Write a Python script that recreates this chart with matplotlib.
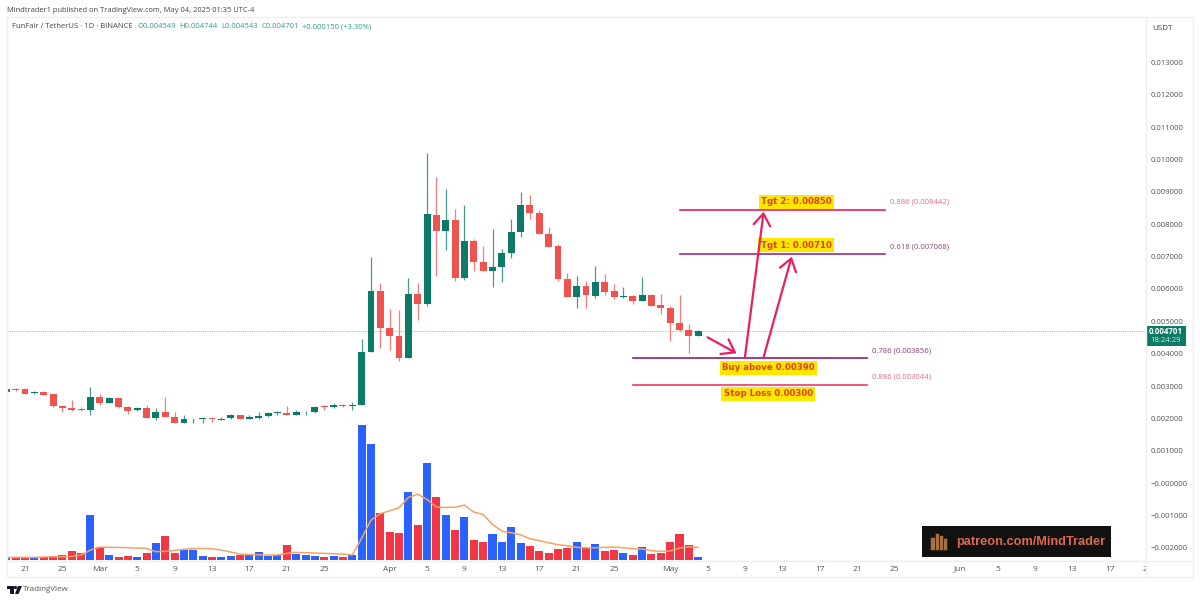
import numpy as np
import pandas as pd
import matplotlib
matplotlib.use('Agg')
import matplotlib.pyplot as plt
import matplotlib.dates as mdates
from matplotlib.patches import Rectangle, Polygon, Circle
from matplotlib.transforms import Bbox

plt.rcParams['font.family'] = ['Open Sans', 'DejaVu Sans']

# daily candles, in millionths of a USDT
open_u = [2805, 2908, 2908, 2795, 2815, 2743, 2383, 2331, 2290, 2249, 2661, 2486, 2620, 2362, 2249, 2311, 2022, 2197, 2053,
          1857, 1971, 1981, 2002, 1960, 2002, 2094, 1981, 2012, 2063, 2156, 2177, 2105, 2187, 2187, 2383, 2341, 2414, 2372,
          2424, 4043, 5938, 4805, 4558, 3868, 5856, 5526, 8297, 7782, 8122, 6340, 7473, 6824, 6556, 6680, 7102, 7751, 8585,
          8359, 7689, 7318, 6299, 5763, 6093, 5784, 6216, 5938, 5763, 5784, 5619, 5815, 5495, 5423, 4939, 4723, 4549]
high_u = [2908, 2929, 2929, 2846, 2856, 2764, 2414, 2568, 2341, 2980, 2764, 2650, 2640, 2393, 2352, 2414, 2331, 2671, 2187,
          2115, 2012, 2022, 2022, 2043, 2125, 2105, 2105, 2187, 2207, 2238, 2383, 2259, 2228, 2372, 2403, 2486, 2434, 2517,
          4444, 6978, 6175, 5372, 5351, 6350, 6196, 10192, 9471, 9080, 8472, 8596, 7535, 7329, 7854, 7246, 8173, 8987, 8894,
          8441, 7926, 7390, 6484, 6402, 6247, 6711, 6453, 6154, 6072, 5804, 6360, 5835, 5835, 5485, 5815, 4908, 4744]
low_u = [2805, 2856, 2753, 2764, 2712, 2362, 2207, 2218, 2218, 2105, 2424, 2475, 2331, 2135, 2228, 2012, 1940, 2032, 1847,
         1847, 1847, 1868, 1899, 1950, 1981, 1971, 1971, 1991, 2043, 2105, 2094, 2094, 2094, 2177, 2259, 2331, 2362, 2259,
         2424, 4043, 4166, 4115, 3775, 3868, 5042, 5485, 6402, 7205, 6257, 6278, 6546, 6556, 6072, 6227, 6947, 7617, 8153,
         7689, 7298, 6247, 5742, 5402, 5413, 5712, 5825, 5681, 5722, 5547, 5619, 5464, 5217, 4403, 4712, 4033, 4543]
close_u = [2908, 2877, 2764, 2826, 2722, 2372, 2321, 2259, 2269, 2661, 2486, 2630, 2341, 2238, 2321, 2022, 2197, 2043, 1857,
           1971, 1991, 2002, 1981, 1991, 2094, 1981, 2032, 2074, 2177, 2187, 2105, 2197, 2207, 2352, 2362, 2403, 2393, 2424,
           4042, 5938, 4795, 4558, 3868, 5835, 5547, 8317, 7792, 8142, 6340, 7493, 6834, 6556, 6680, 7102, 7751, 8585, 8359,
           7689, 7298, 6299, 5763, 6093, 5804, 6216, 5907, 5763, 5794, 5619, 5815, 5485, 5413, 4939, 4733, 4537, 4701]

# volume and its moving average, relative units (the real scale is hidden)
volume = [7, 7, 7, 6, 7, 10, 13, 25, 19, 133, 39, 14, 9, 11, 7, 21, 49, 71, 19, 29, 28, 11, 9, 9, 11, 15, 13, 23, 12, 13, 45,
          18, 14, 11, 9, 11, 7, 13, 406, 349, 140, 84, 81, 204, 105, 292, 188, 135, 90, 127, 59, 54, 78, 54, 97, 50, 41, 25,
          19, 31, 35, 53, 35, 48, 25, 29, 19, 14, 37, 17, 20, 54, 78, 43, 7]
volume_ma = [7, 7, 7, 7, 8, 9, 9, 10, 14, 29, 38, 37, 37, 36, 35, 34, 24, 25, 28, 31, 33, 34, 33, 29, 23, 17, 15, 15, 14, 14,
             19, 22, 21, 20, 19, 18, 17, 14, 64, 119, 138, 147, 156, 187, 197, 181, 158, 157, 158, 164, 143, 136, 106, 86,
             81, 75, 63, 57, 51, 45, 42, 37, 36, 36, 37, 38, 36, 33, 32, 27, 25, 26, 35, 39, 37]
volume_up = [1, 0, 0, 1, 0, 0, 0, 0, 0, 1, 0, 1, 0, 0, 1, 0, 1, 0, 0, 1, 1, 1, 0, 1, 1, 0, 1, 1, 1, 1, 0, 1, 1, 1, 0, 1, 0, 1,
             1, 1, 0, 0, 0, 1, 0, 1, 0, 1, 0, 1, 0, 0, 1, 1, 1, 1, 0, 0, 0, 0, 0, 1, 0, 1, 0, 0, 1, 0, 1, 0, 0, 0, 0, 0, 1]

first_day = '2025-02-19'
last_price = 0.004701

price_ticks = [-0.002, -0.001, 0, 0.001, 0.002, 0.003, 0.004, 0.005, 0.006, 0.007, 0.008, 0.009, 0.010, 0.011, 0.012, 0.013]
price_labels = ['\u22120.002000', '\u22120.001000', '\u22120.000000', '0.001000', '0.002000', '0.003000', '0.004000', '0.005000',
                '0.006000', '0.007000', '0.008000', '0.009000', '0.010000', '0.011000', '0.012000', '0.013000']
tick_dates = ['2025-02-21', '2025-02-25', '2025-03-01', '2025-03-05', '2025-03-09', '2025-03-13', '2025-03-17', '2025-03-21',
              '2025-03-25', '2025-04-01', '2025-04-05', '2025-04-09', '2025-04-13', '2025-04-17', '2025-04-21', '2025-04-25',
              '2025-05-01', '2025-05-05', '2025-05-09', '2025-05-13', '2025-05-17', '2025-05-21', '2025-05-25', '2025-06-01',
              '2025-06-05', '2025-06-09', '2025-06-13', '2025-06-17']
tick_labels = ['21', '25', 'Mar', '5', '9', '13', '17', '21', '25', 'Apr', '5', '9', '13', '17', '21', '25', 'May', '5', '9',
               '13', '17', '21', '25', 'Jun', '5', '9', '13', '17']

# fib levels drawn on the chart
fib_prices = [0.008442, 0.007068, 0.003856, 0.003044]
fib_starts = ['2025-05-02', '2025-05-02', '2025-04-27', '2025-04-27']
fib_ends = ['2025-05-24', '2025-05-24', '2025-05-22', '2025-05-22']
fib_colors = ['#e91e63', '#a02c78', '#8e1f6b', '#ef3a5d']
fib_text = ['0.886 (0.008442)', '0.618 (0.007068)', '0.786 (0.003856)', '0.886 (0.003044)']
fib_text_colors = ['#e8688a', '#8e4a78', '#8e3a78', '#e8688a']
fib_text_prices = [0.008687, 0.007296, 0.004091, 0.003288]

note_text = ['Tgt 2: 0.00850', 'Tgt 1: 0.00710', 'Buy above 0.00390', 'Stop Loss 0.00300']
note_days = [82.5, 82.5, 79.5, 79.5]
note_prices = [0.008697, 0.007358, 0.003566, 0.002753]

arrow_from = [(73, 0.004505), (77, 0.003900), (79, 0.003900)]
arrow_to = [(76.1, 0.004011), (79, 0.008388), (82, 0.006997)]

GREEN = '#0b7a66'
RED = '#ef5350'
VOL_BLUE = '#2962ff'
VOL_RED = '#f23645'
TEAL_TEXT = '#2e9c8a'
GREY = '#555555'
FRAME = '#f0f0f0'

W, H = 1200, 601
fig = plt.figure(figsize=(12, 6.01), dpi=100, facecolor='white')

# pane in pixels: 6.7-1145.7 across, 17-560.7 down
ax = fig.add_axes([6.7 / W, (H - 560.7) / H, 1139 / W, 543.7 / H])
x = mdates.date2num(pd.date_range(first_day, periods=len(open_u)))
day0 = mdates.date2num(pd.Timestamp('2025-02-21'))
ax.set_xlim(day0 - 1.96, day0 + 119.86)
ax.set_ylim(-0.0024, 0.014406)

o = np.array(open_u) * 1e-6
h = np.array(high_u) * 1e-6
l = np.array(low_u) * 1e-6
c = np.array(close_u) * 1e-6
colors = [GREEN if b >= a else RED for a, b in zip(o, c)]
ax.vlines(x, l, h, colors=colors, linewidth=0.9, alpha=0.75, zorder=2)
ax.bar(x, np.abs(c - o), bottom=np.minimum(o, c), width=0.74, color=colors, linewidth=0, zorder=3)
ax.axhline(last_price, color='#8ccabd', linewidth=0.8, linestyle=(0, (1, 1)), zorder=1)

for price, a, b, col in zip(fib_prices, fib_starts, fib_ends, fib_colors):
    ax.plot(mdates.date2num(pd.to_datetime([a, b])), [price, price], color=col, linewidth=1.2, zorder=4)
for price, a, txt, col, ty in zip(fib_prices, fib_ends, fib_text, fib_text_colors, fib_text_prices):
    ax.text(mdates.date2num(pd.Timestamp(a)) + 0.55, ty, txt, color=col, fontsize=5.6, va='center', ha='left', zorder=5)

for txt, d, p in zip(note_text, note_days, note_prices):
    ax.text(day0 + d, p, txt, color='#e2401c', fontsize=6.2, fontweight='bold', family='DejaVu Sans', ha='center', va='center',
            zorder=6, bbox=dict(facecolor='#ffe600', edgecolor='none', pad=1.8))

for start, end in zip(arrow_from, arrow_to):
    ax.annotate('', xy=(day0 + end[0], end[1]), xytext=(day0 + start[0], start[1]), zorder=6,
                arrowprops=dict(arrowstyle='->,head_length=0.85,head_width=0.6', color='#e91e63', linewidth=1.6,
                                mutation_scale=10, shrinkA=0, shrinkB=0))

ax.set_xticks(mdates.date2num(pd.to_datetime(tick_dates)))
ax.set_xticklabels(tick_labels)
ax.tick_params(axis='x', length=0, pad=3.5, labelsize=6, labelcolor=GREY)
for spine in ax.spines.values():
    spine.set_color(FRAME)
    spine.set_linewidth(1)

# "21" sits on the edge of the price scale, only its first digit shows
cut = ax.text(mdates.date2num(pd.Timestamp('2025-06-21')), -0.00268, '21', fontsize=6, color=GREY, ha='center', va='center',
              clip_on=True)
cut.set_clip_box(Bbox([[0, 0], [1146, H]]))

# volume overlay
ax_vol = ax.twinx()
ax_vol.set_ylim(-3, 1631)
ax_vol.bar(x, volume, width=0.86, color=[VOL_BLUE if u else VOL_RED for u in volume_up], linewidth=0, zorder=2)
ax_vol.plot(x, volume_ma, color='#f6a263', linewidth=1.1, zorder=3)
ax_vol.set_yticks([])
for spine in ax_vol.spines.values():
    spine.set_visible(False)

# twinx moves the price ticks to the left, so set them after it
ax.yaxis.tick_right()
ax.set_yticks(price_ticks)
ax.set_yticklabels(price_labels)
ax.tick_params(axis='y', length=0, pad=3.5, labelsize=5.6, labelcolor=GREY)

# everything around the pane, placed in pixels
ax_px = fig.add_axes([0, 0, 1, 1], zorder=5)
ax_px.set_xlim(0, W)
ax_px.set_ylim(H, 0)
ax_px.axis('off')
ax_px.add_patch(Rectangle((6.7, 17), 1186, 560, fill=False, edgecolor=FRAME, linewidth=1))
ax_px.plot([6.7, 1192.7], [560.7, 560.7], color=FRAME, linewidth=1)
ax_px.plot([1145.7, 1145.7], [17, 577], color=FRAME, linewidth=1)

ax_px.text(6.7, 10, 'Mindtrader1 published on TradingView.com, May 04, 2025 01:35 UTC-4', fontsize=5.4, color='#444444', va='center')
ax_px.text(12, 27, 'FunFair / TetherUS \u00b7 1D \u00b7 BINANCE', fontsize=5.5, color='#444444', va='center')
for px, txt in zip([137, 179, 221, 262, 302],
                   ['O0.004549', 'H0.004744', 'L0.004543', 'C0.004701', '+0.000150 (+3.30%)']):
    ax_px.text(px, 27, txt, fontsize=5.5, color=TEAL_TEXT, va='center')

ax_px.text(1152.7, 29, 'USDT', fontsize=5.8, color='#444444', va='center')
ax_px.add_patch(Rectangle((1146, 325.7), 40, 20, facecolor=GREEN, edgecolor='none'))
ax_px.text(1166, 331, '0.004701', fontsize=5.7, color='white', ha='center', va='center', fontweight='bold')
ax_px.text(1166, 340.5, '18:24:29', fontsize=5.6, color='#cfe8e2', ha='center', va='center')

# watermark
ax_px.add_patch(Rectangle((922, 525.7), 189, 31, facecolor='#111111', edgecolor='none'))
ax_px.text(956, 541.5, 'patreon.com/MindTrader', fontsize=9.2, fontweight='bold', color='#dc6a50', family='Liberation Sans',
           va='center')
for bx, by, bw in zip([930, 935, 939, 943], [537, 533, 535, 538], [5, 4, 4, 4]):
    ax_px.add_patch(Rectangle((bx, by), bw, 550 - by, facecolor='#a9713f', edgecolor='#111111', linewidth=0.4))

# TradingView mark
ax_px.add_patch(Rectangle((6.5, 586), 7, 3, facecolor='#131722', edgecolor='none'))
ax_px.add_patch(Rectangle((10, 586), 3.5, 8, facecolor='#131722', edgecolor='none'))
ax_px.add_patch(Circle((15.5, 587.5), 1.6, facecolor='#131722', edgecolor='none'))
ax_px.add_patch(Polygon([[18, 586], [22, 586], [18.5, 594], [15, 594]], facecolor='#131722', edgecolor='none'))
ax_px.text(22.5, 589.5, 'TradingView', fontsize=5.8, color='#555555', va='center')

fig.savefig('out.png', dpi=100, facecolor='white')
